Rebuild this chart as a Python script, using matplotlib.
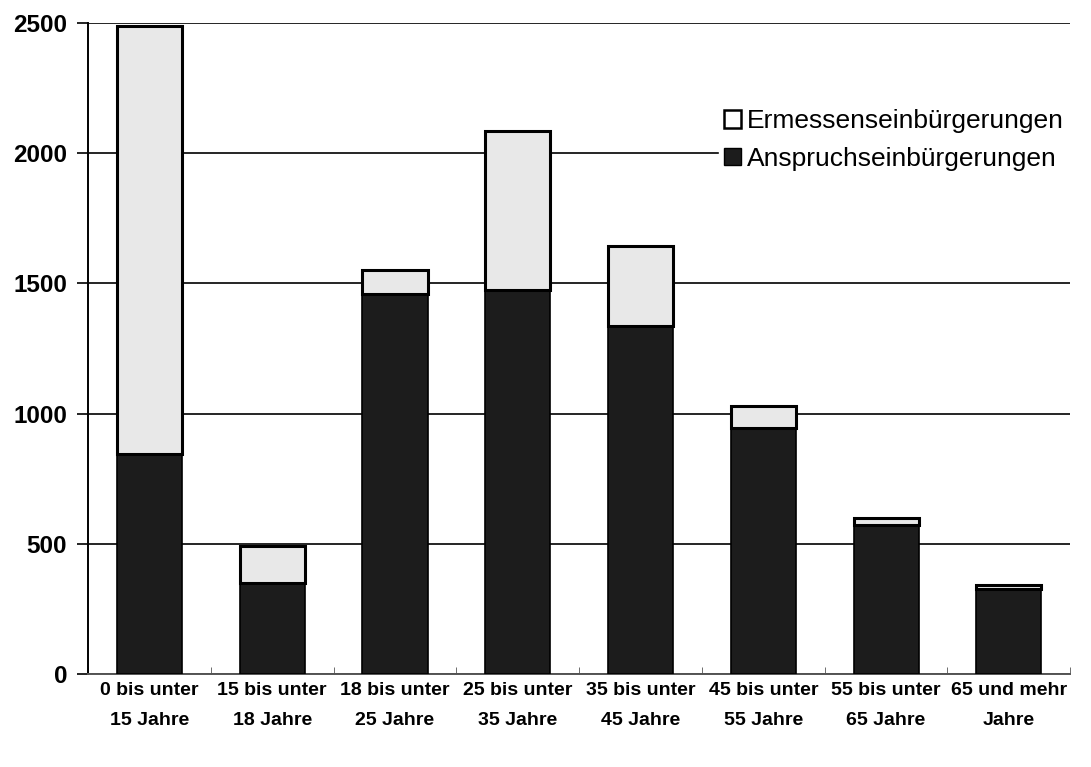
import numpy as np
from matplotlib import pyplot as plt
from matplotlib.patches import Patch

# Altersgruppen (Beschriftung der x-Achse)
kategorien = ["0 bis unter\n15 Jahre", "15 bis unter\n18 Jahre", "18 bis unter\n25 Jahre",
              "25 bis unter\n35 Jahre", "35 bis unter\n45 Jahre", "45 bis unter\n55 Jahre",
              "55 bis unter\n65 Jahre", "65 und mehr\nJahre"]
anspruch = [845, 350, 1460, 1475, 1335, 945, 572, 325]   # Anspruchseinbürgerungen
ermessen = [1645, 140, 90, 610, 310, 85, 28, 15]         # Ermessenseinbürgerungen
y_ticks = [0, 500, 1000, 1500, 2000, 2500]

plt.rcParams['font.family'] = ['Liberation Sans', 'DejaVu Sans']

fig = plt.figure(figsize=(10.91, 7.67), dpi=100)
ax = fig.add_axes([0.0807, 0.1213, 0.9003, 0.8487])

x = np.arange(len(kategorien))
b1 = ax.bar(x, anspruch, width=0.53, color='#1c1c1c', edgecolor='black', linewidth=1.2, zorder=3)
b2 = ax.bar(x, ermessen, width=0.53, bottom=anspruch, color='#e8e8e8', edgecolor='black',
            linewidth=2.2, zorder=3)

ax.set_xlim(-0.5, len(kategorien) - 0.5)
ax.set_ylim(0, 2500)
ax.set_yticks(y_ticks)
ax.set_yticklabels([str(v) for v in y_ticks], fontsize=17.5, fontweight='bold')
ax.set_xticks(x)
ax.set_xticklabels(kategorien, fontsize=14, fontweight='bold', linespacing=1.95)
ax.set_xticks(np.arange(len(kategorien) + 1) - 0.5, minor=True)
ax.tick_params(axis='x', which='major', length=0, pad=6)
ax.tick_params(axis='x', which='minor', direction='in', length=5, color='#555555')
ax.tick_params(axis='y', which='major', length=8, width=1.2, pad=7)

ax.yaxis.grid(True, color='black', linewidth=1.2, zorder=0)
ax.set_axisbelow(True)
for s in ['top', 'right']:
    ax.spines[s].set_visible(False)
ax.spines['left'].set_linewidth(1.4)
ax.spines['bottom'].set_linewidth(1.4)
ax.spines['bottom'].set_color('#555555')

handles = [Patch(facecolor='white', edgecolor='black', linewidth=1.8, label='Ermessenseinbürgerungen'),
           Patch(facecolor='#1c1c1c', edgecolor='black', label='Anspruchseinbürgerungen')]
leg = fig.legend(handles=handles, loc='center right', bbox_to_anchor=(1082 / 1091, 1 - 140 / 767),
                 fontsize=19, frameon=True, facecolor='white', edgecolor='white', framealpha=1,
                 handlelength=0.65, handleheight=0.65, handletextpad=0.2, labelspacing=0.5,
                 borderpad=0.2)

fig.savefig('out.png', dpi=100)
